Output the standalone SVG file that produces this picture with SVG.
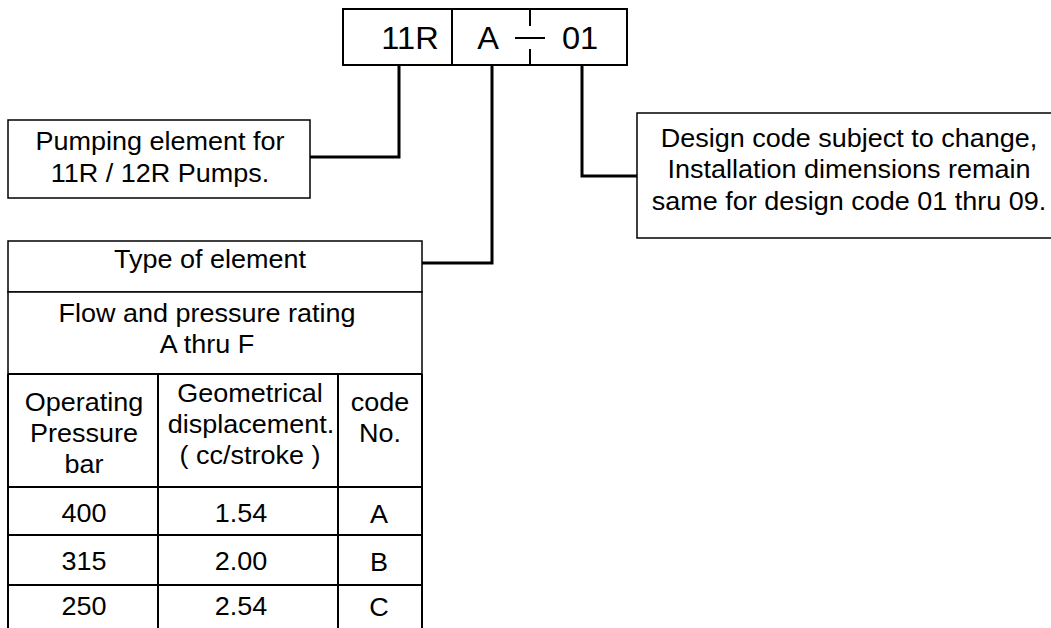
<svg xmlns="http://www.w3.org/2000/svg" width="1051" height="628" viewBox="0 0 1051 628">
<style>
  text { font-family: "Liberation Sans", Arial, sans-serif; font-size: 25px; fill: #000; text-anchor: middle;
         transform-box: fill-box; transform-origin: center; transform: scaleX(1.08); }
  .big { font-size: 31px; transform: scaleX(1.05); }
  .box { fill: #fff; stroke: #000; stroke-width: 1.5; }
  .tbl { fill: none; stroke: #000; stroke-width: 2; }
  .conn { fill: none; stroke: #000; stroke-width: 3; }
</style>
<rect width="1051" height="628" fill="#fff"/>
<g id="connectors">
  <polyline class="conn" points="399,66 399,157 310,157"/>
  <polyline class="conn" stroke-width="2.5" points="492,66 492,263 422,263"/>
  <polyline class="conn" points="582,66 582,176 637,176"/>
</g>
<g id="code-box">
  <rect x="343" y="9" width="284" height="56" fill="#fff" stroke="#000" stroke-width="2"/>
  <line x1="452" y1="9" x2="452" y2="65" stroke="#000" stroke-width="2"/>
  <line x1="530" y1="9" x2="530" y2="26" stroke="#000" stroke-width="2"/>
  <line x1="530" y1="49" x2="530" y2="65" stroke="#000" stroke-width="2"/>
  <line x1="515" y1="38" x2="545" y2="38" stroke="#000" stroke-width="2"/>
  <text class="big" x="410" y="49">11R</text>
  <text class="big" x="488" y="49">A</text>
  <text class="big" x="580" y="49">01</text>
</g>
<g id="pumping-element">
  <rect class="box" x="8" y="120" width="302" height="78"/>
  <text x="160" y="150">Pumping element for</text>
  <text x="160" y="182">11R / 12R Pumps.</text>
</g>
<g id="design-code">
  <rect class="box" x="637" y="113" width="430" height="125"/>
  <text x="849" y="147">Design code subject to change,</text>
  <text x="849" y="178">Installation dimensions remain</text>
  <text x="849" y="210">same for design code 01 thru 09.</text>
</g>
<g id="type-of-element">
  <rect class="box" x="8" y="241" width="414" height="51"/>
  <text x="210" y="268">Type of element</text>
</g>
<g id="flow-rating">
  <rect class="box" x="8" y="292" width="414" height="82"/>
  <text x="207" y="322">Flow and pressure rating</text>
  <text x="207" y="353">A thru F</text>
</g>
<g id="rating-table">
  <line class="tbl" x1="8" y1="374" x2="422" y2="374"/>
  <line class="tbl" x1="8" y1="487" x2="422" y2="487"/>
  <line class="tbl" x1="8" y1="535" x2="422" y2="535"/>
  <line class="tbl" x1="8" y1="585" x2="422" y2="585"/>
  <line class="tbl" x1="8" y1="374" x2="8" y2="628"/>
  <line class="tbl" x1="158" y1="374" x2="158" y2="628"/>
  <line class="tbl" x1="338" y1="374" x2="338" y2="628"/>
  <line class="tbl" x1="422" y1="374" x2="422" y2="628"/>
  <text x="84" y="411">Operating</text>
  <text x="84" y="442">Pressure</text>
  <text x="84" y="473">bar</text>
  <text x="250" y="402">Geometrical</text>
  <text x="251" y="433">displacement.</text>
  <text x="250" y="464">( cc/stroke )</text>
  <text x="380" y="411">code</text>
  <text x="380" y="442">No.</text>
  <text x="84" y="522">400</text>
  <text x="241" y="522">1.54</text>
  <text x="379" y="523">A</text>
  <text x="84" y="570">315</text>
  <text x="241" y="570">2.00</text>
  <text x="379" y="571">B</text>
  <text x="84" y="615">250</text>
  <text x="241" y="615">2.54</text>
  <text x="379" y="616">C</text>
</g>
</svg>
